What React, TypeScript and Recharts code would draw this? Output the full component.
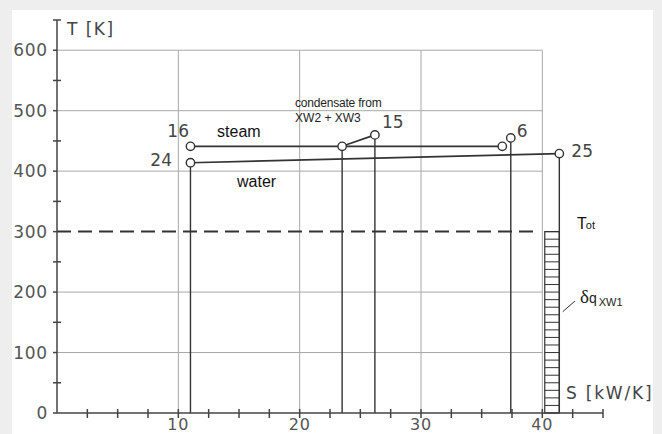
import { ComposedChart, Line, Scatter, XAxis, YAxis, ReferenceLine, ReferenceArea, ReferenceDot } from 'recharts';

// axis ticks (S in kW/K, T in K)
const sTicks = [0, 2.5, 5, 7.5, 10, 12.5, 15, 17.5, 20, 22.5, 25, 27.5, 30, 32.5, 35, 37.5, 40, 42.5, 45];
const sLabelled = [10, 20, 30, 40];
const tTicks = [0, 50, 100, 150, 200, 250, 300, 350, 400, 450, 500, 550, 600, 650];
const tLabelled = [0, 100, 200, 300, 400, 500, 600];
const sGrid = [10, 20, 30, 40];
const tGrid = [100, 200, 400, 500, 600];

// state points
const steam = [
  { s: 11.0, t: 441 },
  { s: 23.5, t: 441 },
  { s: 36.7, t: 441 },
];
const condensate = [
  { s: 23.5, t: 441 },
  { s: 26.2, t: 460 },
];
const water = [
  { s: 11.0, t: 414 },
  { s: 41.4, t: 429 },
];
const extraction = [{ s: 37.4, t: 455 }];

// points with a vertical line down to T = 0
const dropFrom = [water[0], steam[1], condensate[1], extraction[0], water[1]];
const nodes = [...steam, condensate[1], ...water, ...extraction];

// ambient temperature and the heat strip of XW1
const tAmbient = 300;
const ambientEnd = 39.4;
const stripS = [40.2, 41.4];
const hatchT = [0, 12.5, 25, 37.5, 50, 62.5, 75, 87.5, 100, 112.5, 125, 137.5, 150, 162.5, 175, 187.5, 200, 212.5, 225, 237.5, 250, 262.5, 275, 287.5, 300];

const ink = '#333';
const gridColor = '#a8a8a8';
const numFont = { fontFamily: 'DejaVu Sans', fontSize: 17, fill: '#555' };
const textFont = { fontFamily: 'Liberation Sans', fill: '#222' };

const pointLabels = [
  { p: steam[0], text: '16', dx: -1.5, dy: -9, anchor: 'end' },
  { p: water[0], text: '24', dx: -18.5, dy: 3.5, anchor: 'end' },
  { p: condensate[1], text: '15', dx: 7, dy: -7, anchor: 'start' },
  { p: extraction[0], text: '6', dx: 6, dy: -1, anchor: 'start' },
  { p: water[1], text: '25', dx: 12, dy: 3.5, anchor: 'start' },
];

function YTick(props: any) {
  const { x, y, payload } = props;
  const v = payload.value;
  const major = tLabelled.includes(v);
  return (
    <g>
      <line x1={x - 4} x2={major ? x : x + 4} y1={y} y2={y} stroke="#444" strokeWidth={1.5} />
      {major && (
        <text x={x - 9} y={y + 6} textAnchor="end" letterSpacing={0.8} {...numFont}>
          {v}
        </text>
      )}
    </g>
  );
}

function XTick(props: any) {
  const { x, y, payload } = props;
  const v = payload.value;
  return (
    <g>
      {v > 0 && <line x1={x} x2={x} y1={y - 4} y2={y + 5} stroke="#444" strokeWidth={1.5} />}
      {sLabelled.includes(v) && (
        <text x={x} y={y + 17} textAnchor="middle" letterSpacing={0.8} {...numFont} fontSize={16}>
          {v}
        </text>
      )}
    </g>
  );
}

const dropLine = (p: { s: number; t: number }) => [p, { s: p.s, t: 0 }];

export default function App() {
  return (
    <div style={{ position: 'fixed', left: 0, top: 0, width: 662, height: 434, background: '#eeeeee', overflow: 'hidden' }}>
      <div style={{ position: 'absolute', left: 12, top: 10, width: 641, height: 430, background: '#fff' }} />
      <div style={{ position: 'absolute', left: 0, top: 0 }}>
        <ComposedChart width={662} height={434} margin={{ top: 20, right: 59, bottom: 0, left: 0 }}>
          <XAxis
            dataKey="s"
            type="number"
            domain={[0, 45]}
            ticks={sTicks}
            interval={0}
            height={21}
            tickSize={0}
            tickMargin={0}
            tickLine={false}
            axisLine={{ stroke: '#444', strokeWidth: 1.5 }}
            tick={<XTick />}
            allowDataOverflow
          />
          <YAxis
            dataKey="t"
            type="number"
            domain={[0, 650]}
            ticks={tTicks}
            interval={0}
            width={57}
            tickSize={0}
            tickMargin={0}
            tickLine={false}
            axisLine={{ stroke: '#444', strokeWidth: 1.5 }}
            tick={<YTick />}
            allowDataOverflow
          />

          {sGrid.map((s) => (
            <ReferenceLine key={'gs' + s} segment={[{ x: s, y: 0 }, { x: s, y: 600 }]} stroke={gridColor} strokeWidth={1} ifOverflow="visible" />
          ))}
          {tGrid.map((t) => (
            <ReferenceLine key={'gt' + t} segment={[{ x: 0, y: t }, { x: 40, y: t }]} stroke={gridColor} strokeWidth={1} ifOverflow="visible" />
          ))}

          <ReferenceLine
            segment={[{ x: 0, y: tAmbient }, { x: ambientEnd, y: tAmbient }]}
            stroke={ink}
            strokeWidth={2}
            strokeDasharray="14 7"
            ifOverflow="visible"
          />

          {/* heat strip */}
          <ReferenceArea x1={stripS[0]} x2={stripS[1]} y1={0} y2={tAmbient} fill="none" stroke={ink} strokeWidth={1.2} fillOpacity={0} ifOverflow="visible" />
          {hatchT.map((t) => (
            <ReferenceLine key={'h' + t} segment={[{ x: stripS[0], y: t }, { x: stripS[1], y: t }]} stroke={ink} strokeWidth={1} ifOverflow="visible" />
          ))}
          <ReferenceLine segment={[{ x: 41.68, y: 167.5 }, { x: 42.69, y: 185.2 }]} stroke={ink} strokeWidth={1} ifOverflow="visible" />

          {dropFrom.map((p, i) => (
            <Line key={'d' + i} data={dropLine(p)} dataKey="t" stroke={ink} strokeWidth={1.4} dot={false} isAnimationActive={false} />
          ))}
          <Line data={steam} dataKey="t" stroke={ink} strokeWidth={1.6} dot={false} isAnimationActive={false} />
          <Line data={condensate} dataKey="t" stroke={ink} strokeWidth={1.6} dot={false} isAnimationActive={false} />
          <Line data={water} dataKey="t" stroke={ink} strokeWidth={1.6} dot={false} isAnimationActive={false} />
          <Scatter
            data={nodes}
            dataKey="t"
            isAnimationActive={false}
            shape={(p: any) => <circle cx={p.cx} cy={p.cy} r={4.2} fill="#fff" stroke={ink} strokeWidth={1.4} />}
          />

          {pointLabels.map((l) => (
            <ReferenceDot
              key={'l' + l.text}
              x={l.p.s}
              y={l.p.t}
              r={0}
              ifOverflow="visible"
              shape={(p: any) => (
                <text x={p.cx + l.dx} y={p.cy + l.dy} textAnchor={l.anchor} {...numFont} fill="#444">
                  {l.text}
                </text>
              )}
            />
          ))}

          <ReferenceDot x={13.19} y={456.5} r={0} ifOverflow="visible"
            shape={(p: any) => <text x={p.cx} y={p.cy} fontSize={16} {...textFont} fill="#111">steam</text>} />
          <ReferenceDot x={14.84} y={373.8} r={0} ifOverflow="visible"
            shape={(p: any) => <text x={p.cx} y={p.cy} fontSize={16} {...textFont} fill="#111">water</text>} />
          <ReferenceDot x={19.62} y={506} r={0} ifOverflow="visible"
            shape={(p: any) => <text x={p.cx} y={p.cy} fontSize={12} letterSpacing={-0.2} {...textFont}>condensate from</text>} />
          <ReferenceDot x={19.62} y={481.3} r={0} ifOverflow="visible"
            shape={(p: any) => <text x={p.cx} y={p.cy} fontSize={12} {...textFont}>XW2 + XW3</text>} />
          <ReferenceDot x={0.82} y={625} r={0} ifOverflow="visible"
            shape={(p: any) => <text x={p.cx} y={p.cy} letterSpacing={1.5} {...numFont} fill="#444">T [K]</text>} />
          <ReferenceDot x={41.95} y={23.2} r={0} ifOverflow="visible"
            shape={(p: any) => <text x={p.cx} y={p.cy} letterSpacing={1.8} {...numFont} fill="#444">S [kW/K]</text>} />
          <ReferenceDot x={42.86} y={304.3} r={0} ifOverflow="visible"
            shape={(p: any) => (
              <text x={p.cx} y={p.cy} {...textFont} fill="#111">
                <tspan fontSize={16}>T</tspan>
                <tspan fontSize={11} dx={-1}>ot</tspan>
              </text>
            )} />
          <ReferenceDot x={43.1} y={181.9} r={0} ifOverflow="visible"
            shape={(p: any) => (
              <text x={p.cx} y={p.cy} {...textFont}>
                <tspan fontFamily="Liberation Serif" fontSize={19}>δ</tspan>
                <tspan fontSize={14}>q</tspan>
                <tspan fontSize={11} dx={2} dy={3}>XW1</tspan>
              </text>
            )} />
        </ComposedChart>
      </div>
    </div>
  );
}
